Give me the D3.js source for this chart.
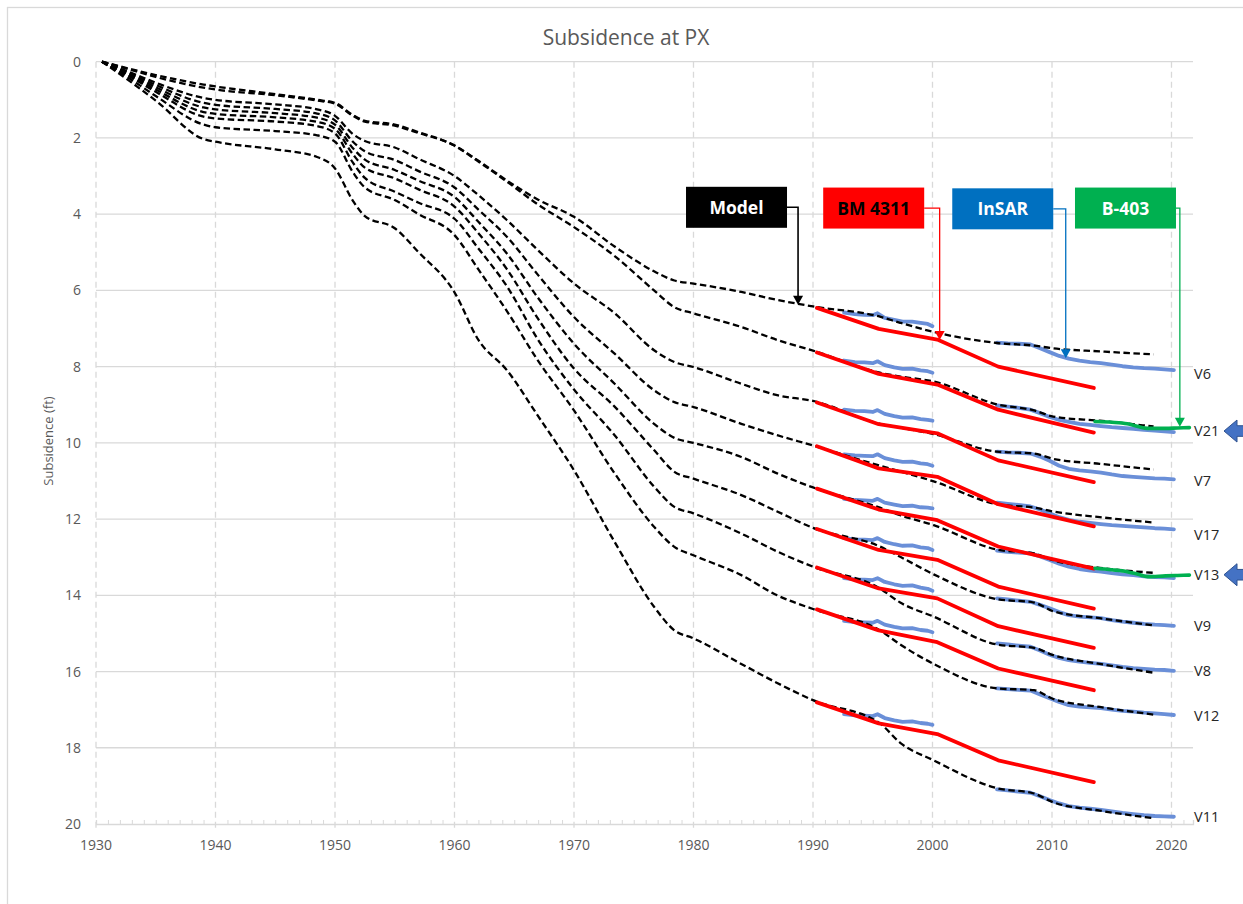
<!DOCTYPE html>
<html>
<head>
<meta charset="utf-8">
<script src="https://cdn.jsdelivr.net/npm/d3@7"></script>
<style>
  body { margin: 0; background: #fff; }
  svg { display: block; font-family: "Open Sans", "Liberation Sans", sans-serif; }
</style>
</head>
<body>
<svg id="chart_svg" width="1243" height="904"></svg>
<script>
// ---- data ----
const sites = ["V6", "V21", "V7", "V17", "V13", "V9", "V8", "V12", "V11"];

// model curves, subsidence (ft) at these years
const modelYears = [1930.5, 1933, 1935, 1939, 1940, 1945, 1948.5, 1950, 1951.5, 1952.5, 1955, 1957,
  1960, 1962, 1964.4, 1967, 1970, 1973.4, 1976.7, 1978.4, 1980, 1984, 1987, 1990, 1995.6, 1997.3,
  2000.1, 2005.4, 2008.5, 2010.1, 2014, 2018.5];
const modelV6  = [0, 0.2, 0.35, 0.6, 0.65, 0.85, 1.0, 1.08, 1.4, 1.55, 1.65, 1.85, 2.2, 2.6, 3.12, 3.62, 4.07, 4.85, 5.5, 5.74, 5.82, 6.04, 6.25, 6.42, 6.69, 6.85, 7.09, 7.38, 7.45, 7.52, 7.6, 7.68];
const modelV21 = [0, 0.22, 0.4, 0.68, 0.73, 0.88, 1.02, 1.1, 1.42, 1.57, 1.68, 1.87, 2.2, 2.62, 3.15, 3.75, 4.34, 5.1, 6.0, 6.44, 6.6, 6.96, 7.3, 7.58, 8.16, 8.26, 8.39, 8.99, 9.15, 9.31, 9.42, 9.57];
const modelV7  = [0, 0.3, 0.55, 0.95, 1.0, 1.12, 1.25, 1.42, 1.9, 2.08, 2.25, 2.55, 3.0, 3.5, 4.16, 4.95, 5.82, 6.6, 7.57, 7.88, 8.01, 8.45, 8.75, 8.9, 9.5, 9.6, 9.77, 10.23, 10.28, 10.42, 10.55, 10.7];
const modelV17 = [0, 0.33, 0.61, 1.08, 1.13, 1.24, 1.36, 1.54, 2.1, 2.35, 2.58, 2.87, 3.3, 3.88, 4.6, 5.6, 6.7, 7.66, 8.62, 8.93, 9.06, 9.5, 9.8, 10.07, 10.6, 10.75, 11.01, 11.61, 11.7, 11.8, 11.95, 12.09];
const modelV13 = [0, 0.36, 0.67, 1.2, 1.25, 1.35, 1.47, 1.65, 2.27, 2.57, 2.84, 3.12, 3.55, 4.2, 5.04, 6.2, 7.4, 8.45, 9.5, 9.87, 10.0, 10.37, 10.8, 11.17, 11.7, 11.9, 12.16, 12.8, 12.9, 13.08, 13.28, 13.41];
const modelV9  = [0, 0.39, 0.73, 1.32, 1.37, 1.46, 1.58, 1.76, 2.43, 2.78, 3.06, 3.35, 3.8, 4.5, 5.45, 6.75, 8.05, 9.05, 10.19, 10.76, 10.94, 11.37, 11.8, 12.23, 12.72, 12.99, 13.45, 14.1, 14.19, 14.42, 14.6, 14.79];
const modelV8  = [0, 0.42, 0.79, 1.44, 1.49, 1.57, 1.69, 1.88, 2.65, 3.05, 3.41, 3.7, 4.12, 4.9, 5.9, 7.3, 8.6, 9.8, 11.15, 11.68, 11.85, 12.38, 12.85, 13.25, 13.82, 14.19, 14.56, 15.29, 15.38, 15.57, 15.8, 16.03];
const modelV12 = [0, 0.48, 0.9, 1.65, 1.72, 1.82, 1.93, 2.1, 2.9, 3.3, 3.63, 4.0, 4.55, 5.45, 6.55, 7.85, 9.15, 10.8, 12.2, 12.73, 12.95, 13.47, 14.0, 14.36, 14.92, 15.29, 15.8, 16.44, 16.49, 16.72, 16.93, 17.13];
const modelV11 = [0, 0.55, 1.02, 2.03, 2.1, 2.3, 2.5, 2.8, 3.65, 4.05, 4.37, 5.0, 6.05, 7.3, 8.1, 9.3, 10.72, 12.6, 14.3, 14.92, 15.13, 15.8, 16.3, 16.75, 17.36, 17.87, 18.33, 19.06, 19.2, 19.43, 19.65, 19.85];

// BM 4311 levelling
const bmYears = [1990.33, 1995.5, 2000.4, 2005.5, 2013.5];
const bmV6  = [6.46, 7.01, 7.29, 8.0, 8.56];
const bmV21 = [7.63, 8.19, 8.47, 9.13, 9.73];
const bmV7  = [8.94, 9.51, 9.75, 10.46, 11.03];
const bmV17 = [10.09, 10.67, 10.89, 11.61, 12.19];
const bmV13 = [11.2, 11.75, 12.03, 12.72, 13.3];
const bmV9  = [12.26, 12.81, 13.07, 13.77, 14.35];
const bmV8  = [13.27, 13.82, 14.08, 14.81, 15.38];
const bmV12 = [14.37, 14.92, 15.23, 15.92, 16.49];
const bmV11 = [16.81, 17.36, 17.64, 18.33, 18.9];

// InSAR, two periods
const insarYears1 = [1992.6, 1993.5, 1994.3, 1995.0, 1995.4, 1996.0, 1996.8, 1997.5, 1998.3, 1999.0, 1999.6, 2000.0];
const insarYears2 = [2005.4, 2006.3, 2007.2, 2008.2, 2009.0, 2009.8, 2010.6, 2011.4, 2012.3, 2013.2, 2014.1, 2015.0,
  2015.9, 2016.8, 2017.7, 2018.6, 2019.4, 2020.2];
const insarV6a  = [6.58, 6.62, 6.64, 6.65, 6.6, 6.72, 6.77, 6.82, 6.82, 6.85, 6.88, 6.94];
const insarV21a = [7.84, 7.88, 7.89, 7.91, 7.86, 7.96, 8.02, 8.06, 8.05, 8.1, 8.12, 8.16];
const insarV7a  = [9.13, 9.16, 9.17, 9.19, 9.14, 9.24, 9.3, 9.34, 9.33, 9.38, 9.4, 9.42];
const insarV17a = [10.3, 10.33, 10.34, 10.35, 10.3, 10.4, 10.46, 10.5, 10.49, 10.54, 10.56, 10.6];
const insarV13a = [11.47, 11.5, 11.51, 11.52, 11.47, 11.57, 11.62, 11.66, 11.65, 11.69, 11.7, 11.72];
const insarV9a  = [12.5, 12.53, 12.54, 12.55, 12.5, 12.6, 12.66, 12.7, 12.69, 12.74, 12.76, 12.81];
const insarV8a  = [13.55, 13.58, 13.59, 13.6, 13.55, 13.65, 13.71, 13.75, 13.74, 13.8, 13.83, 13.88];
const insarV12a = [14.67, 14.7, 14.71, 14.72, 14.67, 14.77, 14.83, 14.87, 14.86, 14.91, 14.93, 14.97];
const insarV11a = [17.12, 17.15, 17.16, 17.17, 17.12, 17.22, 17.28, 17.32, 17.31, 17.35, 17.37, 17.4];
const insarV6b  = [7.37, 7.39, 7.4, 7.42, 7.52, 7.62, 7.72, 7.79, 7.84, 7.88, 7.91, 7.95, 7.99, 8.02, 8.04, 8.05, 8.07, 8.09];
const insarV21b = [9.02, 9.05, 9.08, 9.13, 9.22, 9.32, 9.4, 9.45, 9.5, 9.53, 9.56, 9.59, 9.61, 9.63, 9.66, 9.68, 9.7, 9.72];
const insarV7b  = [10.23, 10.25, 10.26, 10.28, 10.36, 10.47, 10.6, 10.68, 10.72, 10.75, 10.78, 10.83, 10.87, 10.89, 10.91, 10.93, 10.94, 10.96];
const insarV17b = [11.57, 11.6, 11.63, 11.67, 11.75, 11.85, 11.95, 12.02, 12.07, 12.1, 12.13, 12.16, 12.18, 12.2, 12.22, 12.24, 12.25, 12.27];
const insarV13b = [12.83, 12.86, 12.88, 12.9, 12.98, 13.07, 13.17, 13.25, 13.31, 13.35, 13.38, 13.42, 13.45, 13.47, 13.5, 13.52, 13.53, 13.55];
const insarV9b  = [14.08, 14.11, 14.14, 14.17, 14.25, 14.34, 14.44, 14.52, 14.56, 14.58, 14.6, 14.65, 14.69, 14.72, 14.75, 14.77, 14.78, 14.8];
const insarV8b  = [15.26, 15.29, 15.32, 15.35, 15.45, 15.56, 15.64, 15.7, 15.74, 15.77, 15.8, 15.84, 15.88, 15.91, 15.93, 15.95, 15.96, 15.98];
const insarV12b = [16.44, 16.46, 16.48, 16.5, 16.6, 16.7, 16.8, 16.88, 16.92, 16.94, 16.96, 17.0, 17.03, 17.05, 17.08, 17.1, 17.12, 17.14];
const insarV11b = [19.09, 19.12, 19.15, 19.18, 19.27, 19.37, 19.46, 19.53, 19.57, 19.6, 19.63, 19.67, 19.71, 19.74, 19.77, 19.79, 19.8, 19.81];

// B-403 extensometer (V21 and V13 only)
const b403Years = [2013.6, 2015.0, 2016.3, 2017.2, 2018.0, 2019.5, 2020.5, 2021.5];
const b403V21 = [9.44, 9.46, 9.5, 9.57, 9.62, 9.62, 9.61, 9.6];
const b403V13 = [13.29, 13.33, 13.38, 13.45, 13.51, 13.49, 13.48, 13.47];

// site labels on the right (ft) and the two flagged sites
const siteLabelFt = [8.19, 9.69, 11.0, 12.42, 13.46, 14.8, 15.98, 17.16, 19.81];
const flagged = ["V21", "V13"];

const yTicks = [0, 2, 4, 6, 8, 10, 12, 14, 16, 18, 20];
const xTicks = [1930, 1940, 1950, 1960, 1970, 1980, 1990, 2000, 2010, 2020];

// callouts: box centre (year, ft), leader drop year, arrow tip ft
const callouts = [
  { text: "Model",   fill: "#000000", ink: "#ffffff", line: "#000000", x: 1983.6,  y: 3.82, dropX: 1988.75, tipY: 6.38 },
  { text: "BM 4311", fill: "#ff0000", ink: "#000000", line: "#ff0000", x: 1995.08, y: 3.84, dropX: 2000.6,  tipY: 7.3 },
  { text: "InSAR",   fill: "#0070c0", ink: "#ffffff", line: "#0070c0", x: 2005.88, y: 3.86, dropX: 2011.15, tipY: 7.78 },
  { text: "B-403",   fill: "#00b050", ink: "#ffffff", line: "#00b050", x: 2016.15, y: 3.84, dropX: 2020.7,  tipY: 9.58 }
];

const modelData = [modelV6, modelV21, modelV7, modelV17, modelV13, modelV9, modelV8, modelV12, modelV11];
const bmData = [bmV6, bmV21, bmV7, bmV17, bmV13, bmV9, bmV8, bmV12, bmV11];
const insarData1 = [insarV6a, insarV21a, insarV7a, insarV17a, insarV13a, insarV9a, insarV8a, insarV12a, insarV11a];
const insarData2 = [insarV6b, insarV21b, insarV7b, insarV17b, insarV13b, insarV9b, insarV8b, insarV12b, insarV11b];

// ---- drawing ----
const svg = d3.select("#chart_svg");

const xScale = d3.scaleLinear().domain([1930, 2021.8]).range([96, 1193]);
const yScale = d3.scaleLinear().domain([0, 20]).range([61.7, 824]);

const gridColor = "#d9d9d9";
const labelColor = "#595959";

// chart area border
svg.append("rect")
  .attr("x", 7.5).attr("y", 7.5)
  .attr("width", 1300).attr("height", 1000)
  .attr("fill", "#fff").attr("stroke", gridColor).attr("stroke-width", 1.3);

// horizontal gridlines
svg.append("g").selectAll("line").data(yTicks.slice(0, -1)).enter().append("line")
  .attr("x1", xScale(1930)).attr("x2", xScale(2021.8))
  .attr("y1", d => yScale(d)).attr("y2", d => yScale(d))
  .attr("stroke", gridColor).attr("stroke-width", 1.3);

// vertical dashed gridlines (extend a little below the axis like tick marks)
svg.append("g").selectAll("line").data(xTicks).enter().append("line")
  .attr("x1", d => xScale(d)).attr("x2", d => xScale(d))
  .attr("y1", yScale(0)).attr("y2", yScale(20) + 5)
  .attr("stroke", gridColor).attr("stroke-width", 1.3)
  .attr("stroke-dasharray", "6,4");

// x axis with minor yearly ticks
const xAxis = d3.axisBottom(xScale)
  .tickValues(d3.range(1931, 2022).filter(y => y % 10 !== 0))
  .tickSize(-4).tickFormat("");
const gx = svg.append("g").attr("transform", "translate(0," + yScale(20) + ")").call(xAxis);
gx.select(".domain").attr("stroke", gridColor).attr("stroke-width", 1.3);
gx.selectAll(".tick line").attr("stroke", gridColor);

svg.append("g").selectAll("text").data(xTicks).enter().append("text")
  .attr("x", d => xScale(d)).attr("y", yScale(20) + 26)
  .attr("text-anchor", "middle").attr("fill", labelColor).attr("font-size", 14)
  .text(d => d);

svg.append("g").selectAll("text").data(yTicks).enter().append("text")
  .attr("x", 81).attr("y", d => yScale(d) + 5)
  .attr("text-anchor", "end").attr("fill", labelColor).attr("font-size", 14)
  .text(d => d);

// title and axis title
svg.append("text").attr("x", 626).attr("y", 45).attr("text-anchor", "middle")
  .attr("fill", labelColor).attr("font-size", 21).text("Subsidence at PX");
svg.append("text").attr("transform", "translate(53,441) rotate(-90)")
  .attr("text-anchor", "middle").attr("fill", labelColor).attr("font-size", 13)
  .text("Subsidence (ft)");

const line = d3.line().x(d => xScale(d[0])).y(d => yScale(d[1]));
const smooth = d3.line().x(d => xScale(d[0])).y(d => yScale(d[1])).curve(d3.curveMonotoneX);
const zip = (xs, ys) => xs.map((x, i) => [x, ys[i]]);

const g_chart = svg.append("g");

// InSAR
insarData1.forEach((s, i) => {
  [zip(insarYears1, s), zip(insarYears2, insarData2[i])].forEach(seg => {
    g_chart.append("path").attr("d", line(seg))
      .attr("fill", "none").attr("stroke", "#6a8fd8").attr("stroke-width", 3.8)
      .attr("stroke-linejoin", "round").attr("stroke-linecap", "round");
  });
});

// model
modelData.forEach(s => {
  g_chart.append("path").attr("d", smooth(zip(modelYears, s)))
    .attr("fill", "none").attr("stroke", "#000").attr("stroke-width", 2.3)
    .attr("stroke-dasharray", "6.5,3.5");
});

// BM 4311
bmData.forEach(s => {
  g_chart.append("path").attr("d", line(zip(bmYears, s)))
    .attr("fill", "none").attr("stroke", "#ff0000").attr("stroke-width", 3.8)
    .attr("stroke-linejoin", "round").attr("stroke-linecap", "round");
});

// B-403
[b403V21, b403V13].forEach(s => {
  g_chart.append("path").attr("d", smooth(zip(b403Years, s)))
    .attr("fill", "none").attr("stroke", "#00b050").attr("stroke-width", 3.6)
    .attr("stroke-linecap", "round");
});

// site labels
svg.append("g").selectAll("text").data(sites).enter().append("text")
  .attr("x", 1194).attr("y", (d, i) => yScale(siteLabelFt[i]) + 5)
  .attr("fill", "#262626").attr("font-size", 14.5)
  .text(d => d);

// blue block arrows for flagged sites
flagged.forEach(name => {
  const cy = yScale(siteLabelFt[sites.indexOf(name)]);
  const tip = 1224;
  const pts = [[tip, cy], [tip + 13, cy - 11], [tip + 13, cy - 5.3], [1260, cy - 5.3],
    [1260, cy + 5.3], [tip + 13, cy + 5.3], [tip + 13, cy + 11]];
  svg.append("polygon").attr("points", pts.map(p => p.join(",")).join(" "))
    .attr("fill", "#4472c4").attr("stroke", "#2f528f").attr("stroke-width", 1);
});

// callouts
callouts.forEach(c => {
  const cx = xScale(c.x), cy = yScale(c.y);
  const w = 101, h = 41;
  const dx = xScale(c.dropX), ty = yScale(c.tipY);
  svg.append("path")
    .attr("d", "M" + (cx + w / 2) + "," + cy + " H" + dx + " V" + (ty - 8))
    .attr("fill", "none").attr("stroke", c.line).attr("stroke-width", c.line === "#000000" ? 1.6 : 1.3);
  svg.append("polygon")
    .attr("points", [[dx - 5, ty - 9], [dx + 5, ty - 9], [dx, ty]].map(p => p.join(",")).join(" "))
    .attr("fill", c.line);
  svg.append("rect").attr("x", cx - w / 2).attr("y", cy - h / 2).attr("width", w).attr("height", h)
    .attr("fill", c.fill);
  svg.append("text").attr("x", cx).attr("y", cy + 6.5).attr("text-anchor", "middle")
    .attr("fill", c.ink).attr("font-size", 17.5).attr("font-weight", "bold").text(c.text);
});
</script>
</body>
</html>
